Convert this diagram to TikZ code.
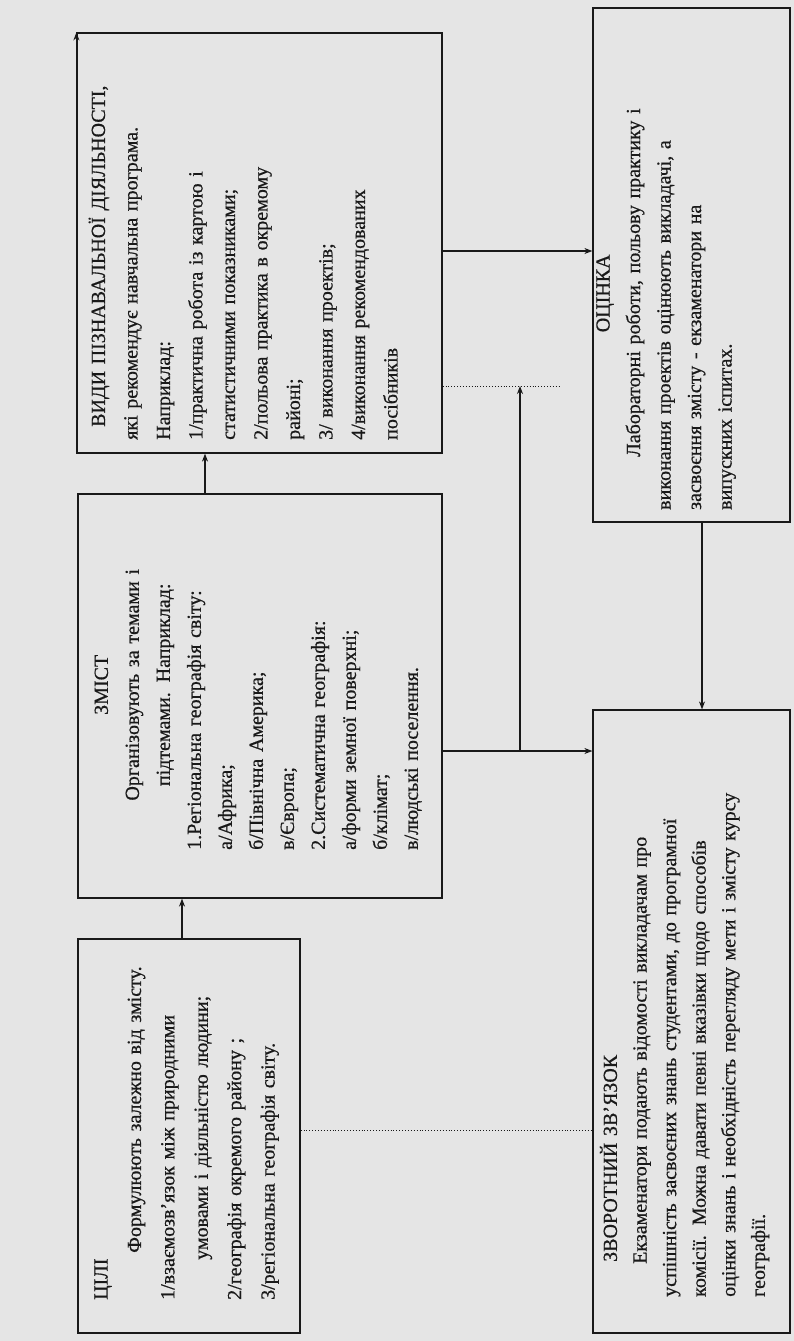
\documentclass[tikz,border=0pt]{standalone}
\usepackage{fontspec}
\setmainfont{Liberation Serif}[FakeBold=0.6]
\usetikzlibrary{arrows.meta}
\definecolor{paper}{RGB}{229,229,229}
\definecolor{ink}{RGB}{25,25,25}
\newcommand{\fl}[2][0pt]{\hspace*{#1}\makebox[\dimexpr\linewidth-#1\relax][s]{#2}}
\newcommand{\pl}[2][0pt]{\hspace*{#1}#2}
\newcommand{\cl}[1]{\makebox[\linewidth][c]{#1}}
\begin{document}
\begin{tikzpicture}[x=1pt,y=-1pt,
  bx/.style={draw=ink,line width=1.2pt,inner sep=0pt},
  tx/.style={rotate=90,anchor=north west,inner sep=0pt,align=left,text=ink},
  arr/.style={draw=ink,line width=1.4pt,-{Stealth[length=8pt,width=6pt]}},
  dot/.style={draw=ink,line width=0.9pt,dotted}]
\useasboundingbox (0,0) rectangle (794,1341);
\fill[paper] (0,0) rectangle (794,1341);

% boxes
\node[bx,minimum width=365pt,minimum height=420pt] (vydy) at (259.5,243) {};
\node[bx,minimum width=364pt,minimum height=404pt] (zmist) at (260,696) {};
\node[bx,minimum width=222pt,minimum height=394pt] (cili) at (189,1136) {};
\node[bx,minimum width=197pt,minimum height=514pt] (ocinka) at (691.5,265) {};
\node[bx,minimum width=197pt,minimum height=623pt] (zvor) at (691.5,1021.5) {};

% texts
\node[tx,text width=362pt,font=\fontsize{20}{32.5}\selectfont] (vydyT) at (82,440) {%
\strut\fl[13pt]{ВИДИ ПІЗНАВАЛЬНОЇ ДІЯЛЬНОСТІ,}\\
\fl{які рекомендує навчальна програма.}\\
Наприклад:\\
\fl{1/практична робота із картою і}\\
статистичними показниками;\\
\fl{2/польова практика в окремому}\\
районі;\\
3/ виконання проектів;\\
\fl{4/виконання рекомендованих}\\
посібників};

\node[tx,text width=330pt,font=\fontsize{20}{31}\selectfont] (zmistT) at (86,850) {%
\strut\cl{ЗМІСТ}\\
\cl{Організовують за темами і}\\
\cl{підтемами. Наприклад:}\\
1.Регіональна географія світу:\\
а/Африка;\\
б/Північна Америка;\\
в/Європа;\\
2.Систематична географія:\\
а/форми земної поверхні;\\
б/клімат;\\
в/людські поселення.};

\node[tx,text width=400pt,font=\fontsize{20}{33.4}\selectfont] (ciliT) at (84,1300) {%
\strut ЦІЛІ\\
\pl[47pt]{Формулюють залежно від змісту.}\\
\fl{1/взаємозв'язок між природними}\\
\pl[40pt]{умовами і діяльністю людини;}\\
2/географія окремого району ;\\
3/регіональна географія світу.};

\node[tx,text width=433pt,font=\fontsize{20}{30.5}\selectfont] (ocinkaT) at (588,510) {%
\strut\cl{ОЦІНКА}\\
\fl[53pt]{Лабораторні роботи, польову практику і}\\
\fl{виконання проектів оцінюють викладачі, а}\\
\fl{засвоєння змісту - екзаменатори на}\\
випускних іспитах.};

\node[tx,text width=536pt,font=\fontsize{20}{29.6}\selectfont] (zvorT) at (596,1297) {%
\strut\pl[35pt]{ЗВОРОТНИЙ ЗВ'ЯЗОК}\\
\fl[33pt]{Екзаменатори подають відомості викладачам про}\\
\fl{успішність засвоєних знань студентами, до програмної}\\
\fl{комісії. Можна давати певні вказівки щодо способів}\\
\fl{оцінки знань і необхідність перегляду мети і змісту курсу}\\
географії.};

% connector guides
\coordinate (cA) at (182,0);
\coordinate (cB) at (205,0);
\coordinate (cC) at (0,251);
\coordinate (cD) at (0,751);
\coordinate (cE) at (520,0);
\coordinate (cF) at (0,386);
\coordinate (dotEnd) at (560,386);
\coordinate (cG) at (0,1130);
\coordinate (cH) at (702,0);

% connectors
\draw[arr] (cili.north -| cA) -- (zmist.south -| cA);
\draw[arr] (zmist.north -| cB) -- (vydy.south -| cB);
\draw[arr] (vydy.east |- cC) -- (ocinka.west |- cC);
\draw[arr] (zmist.east |- cD) -- (zvor.west |- cD);
\draw[arr] (cE |- cD) -- (cE |- cF);
\draw[dot] (vydy.east |- cF) -- (dotEnd);
\draw[dot] (cili.east |- cG) -- (zvor.west |- cG);
\draw[arr] (ocinka.south -| cH) -- (zvor.north -| cH);
\draw[arr] (vydy.south west) -- (vydy.north west);
\end{tikzpicture}
\end{document}
